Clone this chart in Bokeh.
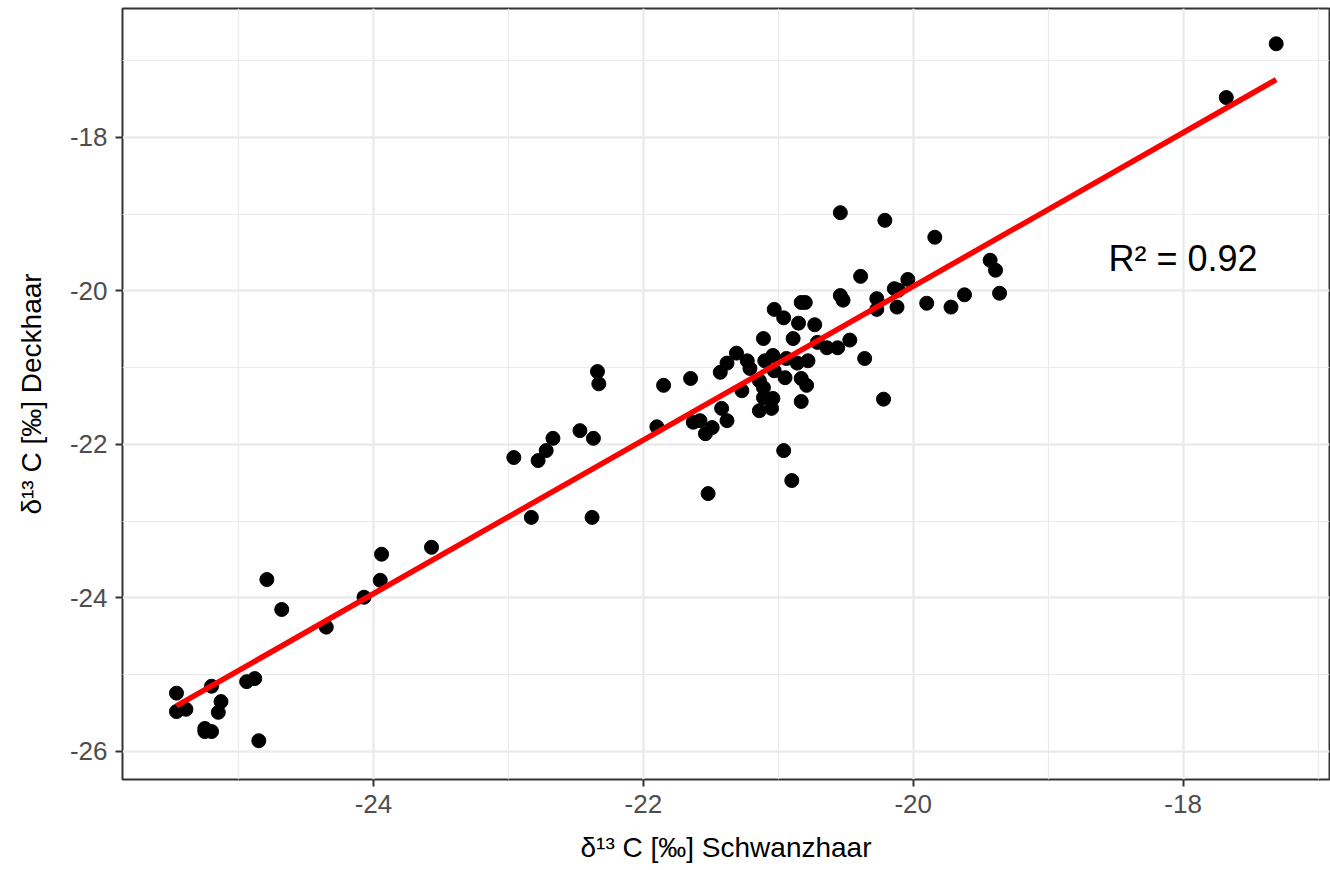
import numpy as np
from bokeh.plotting import figure
from bokeh.models import Range1d, FixedTicker, Label, CustomJSTickFormatter
from bokeh.embed import file_html
from bokeh.resources import INLINE

# δ13C values
schwanzhaar = [
    -17.31, -17.68, -20.54, -20.21, -19.84, -19.43, -19.39, -19.36, -19.62, -19.72,
    -19.90, -20.04, -20.14, -20.11, -20.12, -20.27, -20.27, -20.39, -20.54, -20.52,
    -20.83, -20.80, -20.85, -20.73, -21.03, -20.96, -20.89, -21.11, -20.71, -20.64,
    -20.56, -20.47, -20.36, -21.04, -21.10, -20.94, -20.86, -20.78, -21.03, -20.95,
    -20.83, -20.79, -21.11, -21.11, -21.04, -21.05, -20.83, -20.22, -21.85, -21.65,
    -21.90, -21.63, -21.58, -21.54, -21.49, -21.42, -21.38, -21.43, -21.38, -21.31,
    -21.23, -21.21, -21.27, -21.14, -21.14, -20.96, -20.90, -21.52, -22.96, -22.78,
    -22.72, -22.67, -22.47, -22.37, -22.83, -22.38, -22.34, -22.33, -24.79, -24.68,
    -24.35, -24.07, -23.95, -23.94, -23.57, -25.46, -25.46, -25.39, -25.20, -25.13,
    -25.15, -25.25, -25.25, -25.20, -24.94, -24.88, -24.85,
]
deckhaar = [
    -16.78, -17.48, -18.98, -19.08, -19.30, -19.60, -19.73, -20.03, -20.05, -20.21,
    -20.16, -19.85, -19.97, -19.99, -20.21, -20.10, -20.24, -19.81, -20.06, -20.12,
    -20.15, -20.15, -20.42, -20.44, -20.24, -20.35, -20.62, -20.62, -20.67, -20.74,
    -20.74, -20.64, -20.88, -20.84, -20.91, -20.88, -20.94, -20.91, -21.04, -21.13,
    -21.14, -21.23, -21.26, -21.39, -21.40, -21.53, -21.44, -21.41, -21.23, -21.14,
    -21.77, -21.71, -21.69, -21.86, -21.78, -21.53, -21.69, -21.06, -20.94, -20.81,
    -20.91, -21.01, -21.30, -21.17, -21.56, -22.08, -22.47, -22.64, -22.17, -22.21,
    -22.08, -21.92, -21.82, -21.92, -22.95, -22.95, -21.05, -21.21, -23.76, -24.15,
    -24.38, -23.99, -23.77, -23.43, -23.34, -25.24, -25.48, -25.45, -25.15, -25.35,
    -25.49, -25.70, -25.74, -25.74, -25.09, -25.05, -25.86,
]
x_ticks = [-24, -22, -20, -18]
x_minor = [-25, -23, -21, -19, -17]
y_ticks = [-26, -24, -22, -20, -18]
y_minor = [-25, -23, -21, -19, -17]
r2_text = "R² = 0.92"

# linear fit (geom_smooth method = "lm")
slope, intercept = np.polyfit(schwanzhaar, deckhaar, 1)
x_fit = [min(schwanzhaar), max(schwanzhaar)]
y_fit = [slope * v + intercept for v in x_fit]

FONT = "Liberation Sans"

p = figure(
    width=1330, height=870, output_backend="svg", toolbar_location=None,
    x_range=Range1d(-25.86, -16.915), y_range=Range1d(-26.365, -16.32),
    min_border_left=122, min_border_right=1, min_border_top=8, min_border_bottom=91,
    background_fill_color="white", border_fill_color="white",
)
p.outline_line_color = "#333333"
p.outline_line_width = 2
p.outline_line_alpha = 1

p.xaxis.ticker = FixedTicker(ticks=x_ticks, minor_ticks=x_minor)
p.yaxis.ticker = FixedTicker(ticks=y_ticks, minor_ticks=y_minor)

for g in (p.xgrid, p.ygrid):
    g.grid_line_color = "#EBEBEB"
    g.grid_line_width = 2.4
    g.minor_grid_line_color = "#EBEBEB"
    g.minor_grid_line_width = 1.2

fmt = CustomJSTickFormatter(code="return tick.toString();")
for ax in (p.xaxis, p.yaxis):
    ax.formatter = fmt
    ax.axis_line_color = None
    ax.minor_tick_line_color = None
    ax.major_tick_line_color = "#333333"
    ax.major_tick_line_width = 2
    ax.major_tick_out = 7
    ax.major_tick_in = 0
    ax.major_label_text_font = FONT
    ax.major_label_text_font_size = "26px"
    ax.major_label_text_color = "#4D4D4D"
    ax.axis_label_text_font = FONT
    ax.axis_label_text_font_size = "28px"
    ax.axis_label_text_font_style = "normal"
    ax.axis_label_text_color = "black"

p.xaxis.axis_label = "δ¹³ C [‰] Schwanzhaar"
p.yaxis.axis_label = "δ¹³ C [‰] Deckhaar"
p.xaxis.major_label_standoff = 8
p.yaxis.major_label_standoff = 8
p.xaxis.axis_label_standoff = 16
p.yaxis.axis_label_standoff = 20

p.scatter(schwanzhaar, deckhaar, size=14, color="black")
p.line(x_fit, y_fit, color="red", line_width=5.5)

p.add_layout(Label(x=-18.0, y=-19.58, text=r2_text, text_align="center",
                   text_baseline="middle", text_font=FONT, text_font_size="36px",
                   text_color="black"))

open("out.html", "w").write(file_html(p, INLINE))
